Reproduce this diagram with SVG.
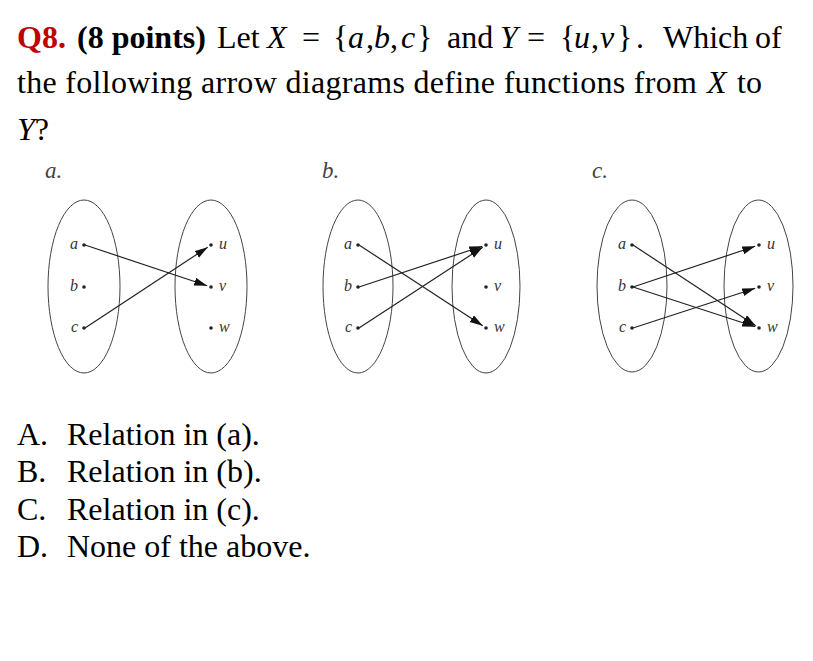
<svg xmlns="http://www.w3.org/2000/svg" width="813" height="661" viewBox="0 0 813 661">
<style>
.t{font-family:"Liberation Serif","Times New Roman",serif;font-size:32px;fill:#000}
.b{font-weight:bold}
.i{font-style:italic}
.red{fill:#C00000}
.sub{font-family:"Liberation Serif","Times New Roman",serif;font-size:23px;font-style:italic;fill:#444}
.lbl{font-family:"Liberation Serif","Times New Roman",serif;font-size:16px;font-style:italic;fill:#333}
.set{fill:none;stroke:#444;stroke-width:1}
.dot{fill:#222}
.arr{stroke:#222;stroke-width:1.2;fill:none;marker-end:url(#ah)}
</style>
<defs>
<marker id="ah" markerUnits="userSpaceOnUse" markerWidth="14" markerHeight="10" refX="13" refY="4" orient="auto">
<path d="M0,0 L13,4 L0,8 z" fill="#111"/>
</marker>
</defs>
<rect width="813" height="661" fill="#fff"/>

<g id="question">
<text class="t" y="48"><tspan x="17" class="b red">Q8.</tspan><tspan x="77" class="b">(8 points)</tspan><tspan x="217">Let</tspan><tspan x="267" class="i">X</tspan><tspan x="302">=</tspan><tspan x="333">{</tspan><tspan x="348" class="i">a</tspan><tspan x="366">,</tspan><tspan x="374" class="i">b</tspan><tspan x="390">,</tspan><tspan x="401" class="i">c</tspan><tspan x="417">}</tspan><tspan x="447">and</tspan><tspan x="500" class="i">Y</tspan><tspan x="527">=</tspan><tspan x="560">{</tspan><tspan x="574" class="i">u</tspan><tspan x="591">,</tspan><tspan x="600" class="i">v</tspan><tspan x="617">}</tspan><tspan x="636">.</tspan><tspan x="663">Which</tspan><tspan x="755">of</tspan></text>
<text class="t" x="17" y="93" textLength="680" lengthAdjust="spacing">the following arrow diagrams define functions from</text>
<text class="t" y="93"><tspan x="707" class="i">X</tspan><tspan x="737">to</tspan></text>
<text class="t" y="140"><tspan x="17" class="i">Y</tspan><tspan>?</tspan></text>
</g>

<g id="diagram-a">
<text class="sub" x="45" y="178">a.</text>
<g id="a-setX"><ellipse class="set" cx="84" cy="286.5" rx="36" ry="86.5"/></g>
<g id="a-setY"><ellipse class="set" cx="211" cy="286.5" rx="36" ry="86.5"/></g>
<g id="a-x-a"><circle class="dot" cx="84" cy="245" r="1.8"/><text class="lbl" x="78" y="249" text-anchor="end">a</text></g>
<g id="a-x-b"><circle class="dot" cx="84" cy="287" r="1.8"/><text class="lbl" x="78" y="291" text-anchor="end">b</text></g>
<g id="a-x-c"><circle class="dot" cx="84" cy="328" r="1.8"/><text class="lbl" x="78" y="332" text-anchor="end">c</text></g>
<g id="a-y-u"><circle class="dot" cx="211" cy="245" r="1.8"/><text class="lbl" x="219" y="249">u</text></g>
<g id="a-y-v"><circle class="dot" cx="211" cy="287" r="1.8"/><text class="lbl" x="219" y="291">v</text></g>
<g id="a-y-w"><circle class="dot" cx="211" cy="328" r="1.8"/><text class="lbl" x="219" y="332">w</text></g>
</g>

<g id="diagram-b">
<text class="sub" x="322" y="178">b.</text>
<g id="b-setX"><ellipse class="set" cx="358" cy="286.5" rx="35" ry="86.5"/></g>
<g id="b-setY"><ellipse class="set" cx="486" cy="286.5" rx="34" ry="86.5"/></g>
<g id="b-x-a"><circle class="dot" cx="358" cy="245" r="1.8"/><text class="lbl" x="352" y="249" text-anchor="end">a</text></g>
<g id="b-x-b"><circle class="dot" cx="358" cy="287" r="1.8"/><text class="lbl" x="352" y="291" text-anchor="end">b</text></g>
<g id="b-x-c"><circle class="dot" cx="358" cy="328" r="1.8"/><text class="lbl" x="352" y="332" text-anchor="end">c</text></g>
<g id="b-y-u"><circle class="dot" cx="486" cy="245" r="1.8"/><text class="lbl" x="494" y="249">u</text></g>
<g id="b-y-v"><circle class="dot" cx="486" cy="287" r="1.8"/><text class="lbl" x="494" y="291">v</text></g>
<g id="b-y-w"><circle class="dot" cx="486" cy="328" r="1.8"/><text class="lbl" x="494" y="332">w</text></g>
</g>

<g id="diagram-c">
<text class="sub" x="592" y="178">c.</text>
<g id="c-setX"><ellipse class="set" cx="632" cy="286" rx="35" ry="86"/></g>
<g id="c-setY"><ellipse class="set" cx="758.5" cy="286" rx="34.5" ry="86"/></g>
<g id="c-x-a"><circle class="dot" cx="632" cy="245" r="1.8"/><text class="lbl" x="626" y="249" text-anchor="end">a</text></g>
<g id="c-x-b"><circle class="dot" cx="632" cy="287" r="1.8"/><text class="lbl" x="626" y="291" text-anchor="end">b</text></g>
<g id="c-x-c"><circle class="dot" cx="632" cy="328" r="1.8"/><text class="lbl" x="626" y="332" text-anchor="end">c</text></g>
<g id="c-y-u"><circle class="dot" cx="759" cy="245" r="1.8"/><text class="lbl" x="767" y="249">u</text></g>
<g id="c-y-v"><circle class="dot" cx="759" cy="287" r="1.8"/><text class="lbl" x="767" y="291">v</text></g>
<g id="c-y-w"><circle class="dot" cx="759" cy="328" r="1.8"/><text class="lbl" x="767" y="332">w</text></g>
</g>

<g id="connectors">
<line class="arr" x1="85" y1="245" x2="207.2" y2="285.7"/>
<line class="arr" x1="85" y1="328" x2="207.7" y2="247.2"/>
<line class="arr" x1="359" y1="245" x2="482.7" y2="325.8"/>
<line class="arr" x1="359" y1="287" x2="482.2" y2="246.3"/>
<line class="arr" x1="359" y1="328" x2="482.7" y2="247.2"/>
<line class="arr" x1="633" y1="245" x2="755.7" y2="325.8"/>
<line class="arr" x1="633" y1="287" x2="755.2" y2="246.3"/>
<line class="arr" x1="633" y1="287" x2="755.2" y2="326.8"/>
<line class="arr" x1="633" y1="328" x2="755.2" y2="288.2"/>
</g>

<g id="options">
<text class="t" y="445"><tspan x="17">A.</tspan><tspan x="67">Relation in (a).</tspan></text>
<text class="t" y="482"><tspan x="17">B.</tspan><tspan x="67">Relation in (b).</tspan></text>
<text class="t" y="520"><tspan x="17">C.</tspan><tspan x="67">Relation in (c).</tspan></text>
<text class="t" y="557"><tspan x="17">D.</tspan><tspan x="67">None of the above.</tspan></text>
</g>
</svg>
